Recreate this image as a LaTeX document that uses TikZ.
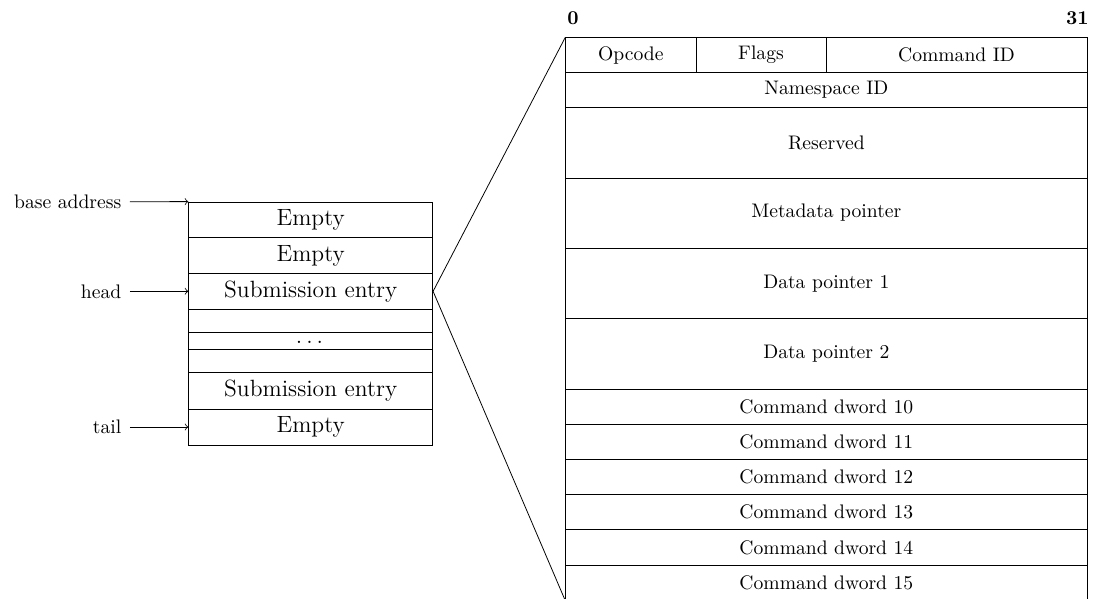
\documentclass[tikz,border=0pt]{standalone}
\begin{document}
\begin{tikzpicture}[x=0.51pt,y=-0.51pt,
  cell/.style={draw,rectangle,inner sep=0pt,line width=0.4pt},
  lcell/.style={cell,font=\large,minimum width={244*0.51pt}},
  rcell/.style={cell,font=\normalsize},
  lbl/.style={inner sep=0pt,anchor=east,font=\normalsize},
  ptr/.style={->,line width=0.4pt,shorten <=4.2pt},
  zoomline/.style={line width=0.4pt},
  bitlbl/.style={inner sep=0pt,font=\normalsize\bfseries}]
\useasboundingbox (0,0) rectangle (1094,598);
% left queue
\node[lcell,minimum height={35.7*0.51pt}] (e1) at (310.7,219.85) {Empty};
\node[lcell,minimum height={35.6*0.51pt}] (e2) at (310.7,255.5) {Empty};
\node[lcell,minimum height={36*0.51pt}] (s1) at (310.7,291.3) {Submission entry};
\node[lcell,minimum height={23.4*0.51pt}] (g1) at (310.7,321) {};
\node[lcell,minimum height={17*0.51pt}] (dd) at (310.7,341.2) {};
\node[inner sep=0pt,font=\large,anchor=base] (ddt) at (309.5,343.5) {$\ldots$};
\node[lcell,minimum height={23*0.51pt}] (g2) at (310.7,361.2) {};
\node[lcell,minimum height={36.3*0.51pt}] (s2) at (310.7,390.85) {Submission entry};
\node[lcell,minimum height={36*0.51pt}] (e3) at (310.7,427) {Empty};
% pointers
\node[lbl] (lba) at (121.7,201.7) {base address};
\node[lbl] (lhead) at (121.7,291.3) {head};
\node[lbl] (ltail) at (121.7,427) {tail};
\draw[ptr] (lba.east) -- (e1.north west);
\draw[ptr] (lhead.east) -- (s1.west);
\draw[ptr] (ltail.east) -- (e3.west);
% right entry layout
\node[rcell,minimum width={130.3*0.51pt},minimum height={35*0.51pt}] (opc) at (630.85,55.2) {Opcode};
\node[rcell,minimum width={130*0.51pt},minimum height={35*0.51pt}] (flg) at (761,55.2) {Flags};
\node[rcell,minimum width={261*0.51pt},minimum height={35*0.51pt}] (cid) at (956.5,55.2) {Command ID};
\tikzset{wide/.style={rcell,minimum width={521.3*0.51pt}}}
\node[wide,minimum height={34.6*0.51pt}] (nsid) at (826.35,90) {Namespace ID};
\node[wide,minimum height={70.7*0.51pt}] (rsv) at (826.35,142.65) {Reserved};
\node[wide,minimum height={70*0.51pt}] (meta) at (826.35,213) {Metadata pointer};
\node[wide,minimum height={70.7*0.51pt}] (dp1) at (826.35,283.35) {Data pointer 1};
\node[wide,minimum height={70.6*0.51pt}] (dp2) at (826.35,354) {Data pointer 2};
\node[wide,minimum height={35*0.51pt}] (dw10) at (826.35,406.8) {Command dword 10};
\node[wide,minimum height={35*0.51pt}] (dw11) at (826.35,441.8) {Command dword 11};
\node[wide,minimum height={34.7*0.51pt}] (dw12) at (826.35,476.65) {Command dword 12};
\node[wide,minimum height={35.7*0.51pt}] (dw13) at (826.35,511.85) {Command dword 13};
\node[wide,minimum height={35.3*0.51pt}] (dw14) at (826.35,547.35) {Command dword 14};
\node[wide,minimum height={35.3*0.51pt}] (dw15) at (826.35,582.65) {Command dword 15};
% bit labels
\node[bitlbl,anchor=base west] (b0) at (567,24) {0};
\node[bitlbl,anchor=base east] (b31) at (1089,24) {31};
% zoom lines
\draw[zoomline] (s1.east) -- (opc.north west);
\draw[zoomline] (s1.east) -- (dw15.south west);
\end{tikzpicture}
\end{document}
